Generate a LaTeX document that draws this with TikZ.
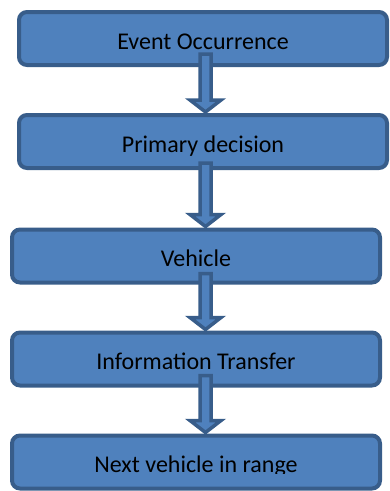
\documentclass[tikz,border=0pt]{standalone}
\usepackage{fontspec}
\setmainfont{Carlito}
\usetikzlibrary{calc}
\definecolor{boxfill}{HTML}{4F81BD}
\definecolor{boxline}{HTML}{385D8A}
\tikzset{
  flowtext/.style={inner sep=0pt, text height=21pt, text depth=0pt,
    font=\fontsize{24}{28}\selectfont, text=black},
  flowbox/.style={flowtext, draw=boxline, fill=boxfill, line width=4pt,
    rounded corners=8pt, minimum width=368pt, minimum height=53pt},
  blockarrow/.style={draw=boxline, fill=boxfill, line width=3.5pt, miter limit=10}
}
\newcommand{\blkarrow}[3]{%
  \coordinate (S) at ($(#1.south -| ax)+(0,-#3)$);
  \coordinate (T) at ($(#2.north -| ax)+(0,-1)$);
  \draw[blockarrow] ($(S)+(-5.5,0)$) -- ($(T)+(-5.5,-12)$) -- ($(T)+(-15.5,-12)$)
    -- (T) -- ($(T)+(15.5,-12)$) -- ($(T)+(5.5,-12)$) -- ($(S)+(5.5,0)$) -- cycle;
}
\begin{document}
\begin{tikzpicture}[x=1pt, y=-1pt]
  \useasboundingbox (0,0) rectangle (390,491);
  \coordinate (ax) at (205.5,0);
  \node[flowbox] (b1) at (203,38.5) {Event Occurrence};
  \node[flowbox] (b2) at (203,141.5) {Primary decision};
  \node[flowbox] (b3) at (196,256) {Vehicle};
  \node[flowbox] (b4) at (196,359) {Information Transfer};
  \node[flowbox] (b5) at (196,462) {};
  \begin{scope}
    \clip (0,0) rectangle (390,473.5);
    \node[flowtext] (t5) at (b5) {Next vehicle in range};
  \end{scope}
  \blkarrow{b1}{b2}{13}
  \blkarrow{b2}{b3}{7}
  \blkarrow{b3}{b4}{11}
  \blkarrow{b4}{b5}{12}
\end{tikzpicture}
\end{document}
